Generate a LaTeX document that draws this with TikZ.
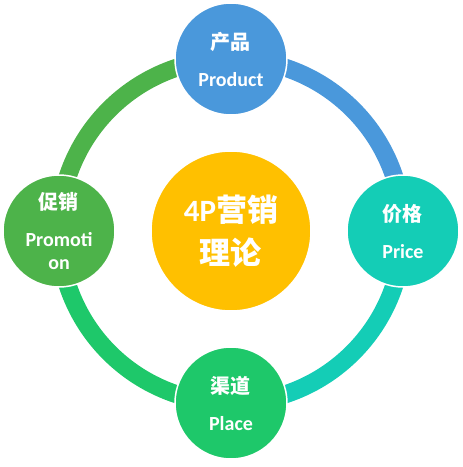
\documentclass[tikz,border=0pt]{standalone}
\usepackage{fontspec}
\setmainfont{Carlito}
\newfontfamily\cjk{Noto Sans CJK SC}
\usetikzlibrary{backgrounds}
\definecolor{PBlue}{HTML}{4A98DB}
\definecolor{PTeal}{HTML}{14CDB6}
\definecolor{PGreen}{HTML}{1EC86A}
\definecolor{MGreen}{HTML}{4DB34A}
\definecolor{CYellow}{HTML}{FFC000}

\begin{document}
\begin{tikzpicture}[x=1pt, y=1pt,
  petal/.style={circle, draw=white, line width=1.5pt, minimum size=112pt,
    inner sep=0pt, text=white, align=center,
    font=\bfseries\fontsize{20}{24}\selectfont},
  ring/.style={line width=18pt, looseness=1}]
\useasboundingbox (-231,-236) rectangle (232,231);

% centre
\node[petal, fill=CYellow, minimum size=160pt,
  font=\bfseries\fontsize{31}{36}\selectfont] (core) at (0,0)
  {4P{\cjk 营销}\\[7pt]{\cjk 理论}};

% the four Ps
\node[petal, fill=PBlue]  (product)   at (0, 172) {{\cjk 产品}\\[13pt]Product};
\node[petal, fill=PTeal]  (price)     at (172, 0) {{\cjk 价格}\\[13pt]Price};
\node[petal, fill=PGreen] (place)     at (0,-172) {{\cjk 渠道}\\[13pt]Place};
\node[petal, fill=MGreen] (promotion) at (-172,0) {{\cjk 促销}\\[13pt]Promoti\\on};

\begin{scope}[on background layer]
\draw[ring, PBlue]  (product.center)   to[out=0,   in=90]  (price.center);
\draw[ring, PTeal]  (price.center)     to[out=-90, in=0]   (place.center);
\draw[ring, PGreen] (place.center)     to[out=180, in=-90] (promotion.center);
\draw[ring, MGreen] (promotion.center) to[out=90,  in=180] (product.center);
\end{scope}
\end{tikzpicture}
\end{document}
